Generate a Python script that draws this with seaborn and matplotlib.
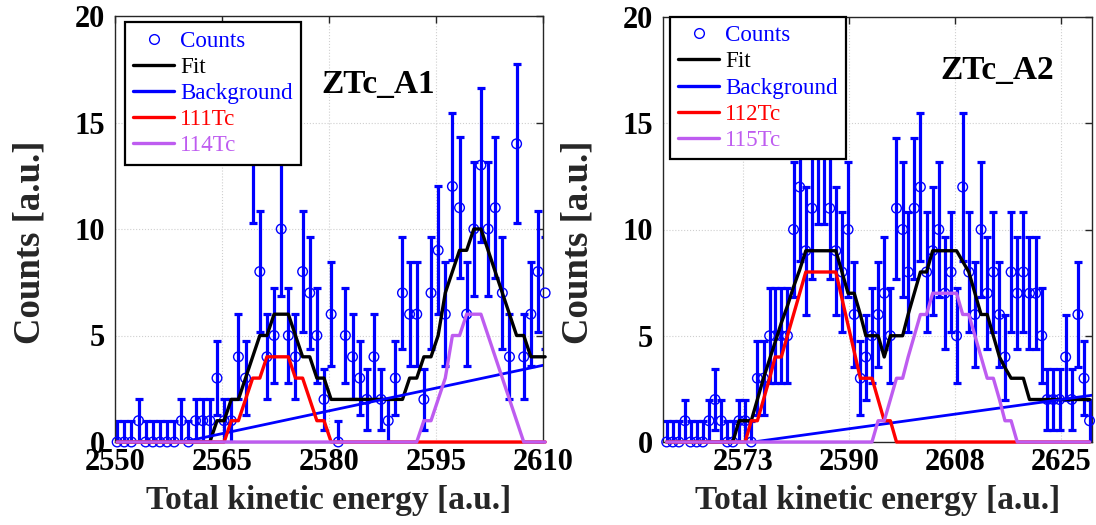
import numpy as np
import matplotlib
matplotlib.use("Agg")
import matplotlib.pyplot as plt
from matplotlib.lines import Line2D
import seaborn as sns

# ---------------- data: panel ZTc_A1 ----------------
energy_A1 = [2550.3, 2551.3, 2552.3, 2553.3, 2554.3, 2555.3, 2556.3, 2557.3, 2558.3, 2559.3,
             2560.3, 2561.3, 2562.3, 2563.3, 2564.3, 2565.3, 2566.3, 2567.3, 2568.3, 2569.3,
             2570.3, 2571.3, 2572.3, 2573.3, 2574.3, 2575.3, 2576.3, 2577.3, 2578.3, 2579.3,
             2580.3, 2581.3, 2582.3, 2583.3, 2584.3, 2585.3, 2586.3, 2587.3, 2588.3, 2589.3,
             2590.3, 2591.3, 2592.3, 2593.3, 2594.3, 2595.3, 2596.3, 2597.3, 2598.3, 2599.3,
             2600.3, 2601.3, 2602.3, 2603.3, 2604.3, 2605.3, 2606.3, 2607.3, 2608.3, 2609.3,
             2610.3]
counts_A1 = [0, 0, 0, 1, 0, 0, 0, 0, 0, 1, 0, 1, 1, 1, 3, 1, 1,
             4, 3, 14, 8, 4, 5, 10, 5, 4, 8, 7, 5, 2, 6, 0, 5, 4, 3, 2, 4, 2, 1, 3,
             7, 6, 6, 2, 7, 9, 6, 12, 11, 6, 10, 13, 10, 11, 7, 4, 14, 4, 6, 8, 7]
fit_A1 = [0, 0, 0, 0, 0, 0, 0, 0, 0, 0, 0, 0, 0, 0,
          1, 1, 2, 2, 3, 4, 5, 5, 6, 6, 6, 5, 4, 4, 3, 3,
          2, 2, 2, 2, 2, 2, 2, 2, 2, 2, 2,
          3, 3, 4, 4, 5, 7, 8, 9, 9, 10, 10, 9, 8, 7, 6, 5, 5, 4, 4, 4]
peak1_A1 = [0, 0, 0, 0, 0, 0, 0, 0, 0, 0, 0, 0, 0, 0, 0, 0,
            1, 1, 2, 3, 3, 4, 4, 4, 4, 3, 3, 2, 1, 1,
            0, 0, 0, 0, 0, 0, 0, 0, 0, 0, 0, 0, 0, 0, 0, 0, 0, 0, 0, 0,
            0, 0, 0, 0, 0, 0, 0, 0, 0, 0, 0]
peak2_A1 = [0, 0, 0, 0, 0, 0, 0, 0, 0, 0, 0, 0, 0, 0, 0, 0, 0, 0, 0, 0,
            0, 0, 0, 0, 0, 0, 0, 0, 0, 0, 0, 0, 0, 0, 0, 0, 0, 0, 0, 0,
            0, 0, 0, 1, 1, 2, 3, 5, 5, 6, 6, 6, 5, 4, 3, 2, 1, 0, 0, 0, 0]
bg_x_A1 = [2559.5, 2610.0]
bg_y_A1 = [0.0, 3.6]

# ---------------- data: panel ZTc_A2 ----------------
energy_A2 = [2560.6, 2561.6, 2562.6, 2563.6, 2564.5, 2565.5, 2566.5, 2567.5, 2568.5, 2569.5,
             2570.5, 2571.4, 2572.4, 2573.4, 2574.4, 2575.4, 2576.4, 2577.4, 2578.3, 2579.3,
             2580.3, 2581.3, 2582.3, 2583.3, 2584.3, 2585.3, 2586.2, 2587.2, 2588.2, 2589.2,
             2590.2, 2591.2, 2592.2, 2593.1, 2594.1, 2595.1, 2596.1, 2597.1, 2598.1, 2599.1,
             2600.0, 2601.0, 2602.0, 2603.0, 2604.0, 2605.0, 2606.0, 2607.0, 2607.9, 2608.9,
             2609.9, 2610.9, 2611.9, 2612.9, 2613.9, 2614.9, 2615.8, 2616.8, 2617.8, 2618.8,
             2619.8, 2620.8, 2621.8, 2622.7, 2623.7, 2624.7, 2625.7, 2626.7, 2627.7, 2628.7,
             2629.6]
counts_A2 = [0, 0, 0, 1, 0, 0, 0, 1, 2, 1, 0, 0, 1, 1, 0,
             3, 3, 5, 5, 5, 5, 10, 12, 9, 11, 14, 14, 11, 9, 8, 10,
             6, 3, 4, 5, 6, 7, 5, 11, 10, 8, 11, 12, 8, 9, 10, 7, 8, 5, 12, 8,
             6, 10, 7, 8, 6, 4, 8, 7, 8, 7, 7, 5, 2, 2, 2, 4, 2, 6, 3, 1]
fit_A2 = [0, 0, 0, 0, 0, 0, 0, 0, 0, 0, 0, 0,
          1, 1, 1,
          2, 3, 3.9, 4.7, 5.6, 6.4, 7.3, 8.1, 9,
          9, 9, 9, 9, 9,
          8, 7, 7, 6, 5, 5, 5, 4, 5, 5, 5, 6, 7, 8, 8,
          9, 9, 9, 9, 9,
          8.5, 8, 7, 6, 6, 5, 4, 3.5, 3, 3, 3, 2,
          2, 2, 2, 2, 2, 2, 2, 2, 2, 2]
peak1_A2 = [0, 0, 0, 0, 0, 0, 0, 0, 0, 0, 0, 0, 0, 0,
            1, 1, 2, 3, 4, 4, 5, 6, 7, 8, 8, 8, 8, 8, 8, 6.75, 5.5, 4.25, 3, 3, 3, 2, 1, 1,
            0, 0, 0, 0, 0, 0, 0, 0, 0, 0, 0, 0, 0, 0, 0, 0, 0, 0, 0, 0, 0, 0, 0,
            0, 0, 0, 0, 0, 0, 0, 0, 0, 0]
peak2_A2 = [0, 0, 0, 0, 0, 0, 0, 0, 0, 0, 0, 0, 0, 0, 0, 0, 0, 0, 0, 0,
            0, 0, 0, 0, 0, 0, 0, 0, 0, 0, 0, 0, 0, 0, 0,
            1, 1, 2, 3, 3, 4, 5, 6, 6, 7, 7, 7, 7, 7, 6, 6, 5, 4, 3, 3, 2, 1, 1, 0,
            0, 0, 0, 0, 0, 0, 0, 0, 0, 0, 0, 0]
bg_x_A2 = [2574.7, 2630.0]
bg_y_A2 = [0.0, 2.2]

panels = [
    dict(name="ZTc_A1", E=energy_A1, C=counts_A1, fit=fit_A1, p1=peak1_A1, p2=peak2_A1,
         bgx=bg_x_A1, bgy=bg_y_A1, labels=["111Tc", "114Tc"],
         xlim=(2550, 2610), xticks=[2550, 2565, 2580, 2595, 2610],
         xticklabels=["2550", "2565", "2580", "2595", "2610"],
         title_xy=(2579.0, 16.4), rect=[115 / 1096, 1 - 442 / 525, 428 / 1096, 426 / 525],
         leg_anchor=(0.023, 0.985)),
    dict(name="ZTc_A2", E=energy_A2, C=counts_A2, fit=fit_A2, p1=peak1_A2, p2=peak2_A2,
         bgx=bg_x_A2, bgy=bg_y_A2, labels=["112Tc", "115Tc"],
         xlim=(2560, 2630), xticks=[2573, 2590.33, 2607.67, 2625],
         xticklabels=["2573", "2590", "2608", "2625"],
         title_xy=(2605.2, 17.1), rect=[663 / 1096, 1 - 442 / 525, 429 / 1096, 425 / 525],
         leg_anchor=(0.016, 1.0)),
]

BLUE = "#0000FF"
RED = "#FF0000"
PURPLE = "#BE5CF0"
BLACK = "#000000"

sns.set_theme(style="white")
plt.rcParams["font.family"] = ["Liberation Serif", "DejaVu Serif"]

fig = plt.figure(figsize=(10.96, 5.25), dpi=100)

for p in panels:
    ax = fig.add_axes(p["rect"])
    E = np.array(p["E"], dtype=float)
    C = np.array(p["C"], dtype=float)
    err = np.sqrt(np.maximum(C, 1.0))

    ax.errorbar(E, C, yerr=err, fmt="none", ecolor=BLUE, elinewidth=2.3,
                capsize=3.2, capthick=2.3, zorder=2)
    sns.scatterplot(x=E, y=C, ax=ax, marker="o", s=48, facecolor="none",
                    edgecolor=BLUE, linewidth=1.0, zorder=3, clip_on=False)
    sns.lineplot(x=E, y=p["fit"], ax=ax, color=BLACK, linewidth=2.4, zorder=4, clip_on=False)
    sns.lineplot(x=p["bgx"], y=p["bgy"], ax=ax, color=BLUE, linewidth=2.0, zorder=5)
    sns.lineplot(x=E, y=p["p1"], ax=ax, color=RED, linewidth=2.4, zorder=6, clip_on=False)
    sns.lineplot(x=E, y=p["p2"], ax=ax, color=PURPLE, linewidth=2.4, zorder=7, clip_on=False)

    ax.set_xlim(*p["xlim"])
    ax.set_ylim(0, 20)
    ax.set_xticks(p["xticks"])
    ax.set_xticklabels(p["xticklabels"])
    ax.set_yticks([0, 5, 10, 15, 20])
    ax.set_yticklabels(["0", "5", "10", "15", "20"])
    for lab in ax.get_xticklabels() + ax.get_yticklabels():
        lab.set_fontweight("bold")
    ax.tick_params(direction="in", length=5, width=1, top=True, right=True,
                   labelsize=22, colors="#262626", labelcolor="black")
    ax.tick_params(axis="x", pad=4)
    ax.tick_params(axis="y", pad=7)
    ax.grid(True, linestyle=":", color="#cfcfcf", linewidth=0.8)
    ax.set_axisbelow(True)
    for s in ax.spines.values():
        s.set_color("#262626")
        s.set_linewidth(1.0)
        s.set_visible(True)

    ax.set_xlabel("Total kinetic energy [a.u.]", fontsize=24, fontweight="bold")
    ax.set_ylabel("Counts [a.u.]", fontsize=26.5, fontweight="bold")
    ax.xaxis.set_label_coords(0.5, -0.102)
    ax.yaxis.set_label_coords(-0.158, 0.47)

    ax.text(p["title_xy"][0], p["title_xy"][1], p["name"], fontsize=24,
            fontweight="bold", ha="left", va="baseline", color="black")

    handles = [
        Line2D([], [], marker="o", linestyle="none", markerfacecolor="none",
               markeredgecolor=BLUE, markersize=7, markeredgewidth=1.0),
        Line2D([], [], color=BLACK, linewidth=2.4),
        Line2D([], [], color=BLUE, linewidth=2.4),
        Line2D([], [], color=RED, linewidth=2.4),
        Line2D([], [], color=PURPLE, linewidth=2.4),
    ]
    names = ["Counts", "Fit", "Background", p["labels"][0], p["labels"][1]]
    leg = ax.legend(handles, names, loc="upper left", bbox_to_anchor=p["leg_anchor"],
                    borderaxespad=0, fontsize=16.6, frameon=True, fancybox=False,
                    framealpha=1.0, edgecolor="black", handlelength=1.8,
                    handletextpad=0.25, labelspacing=0.22, borderpad=0.35)
    leg.get_frame().set_linewidth(1.6)
    leg.set_zorder(10)
    for txt, col in zip(leg.get_texts(), [BLUE, BLACK, BLUE, RED, PURPLE]):
        txt.set_color(col)

fig.savefig("out.png", dpi=100)
